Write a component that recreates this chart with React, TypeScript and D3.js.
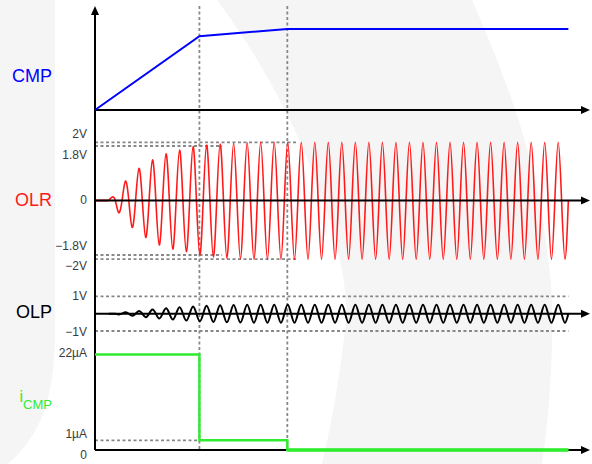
import React from "react";
import * as d3 from "d3";

// ---------- data (time measured in oscillation cycles) ----------
const timeDomain = [0, 36.6];
const eventTimes = [7.72, 14.22];
const waveStart = 1;
const signalEnd = 35;

const cmpTimes = [0, 7.72, 14.22, 35];
const cmpValues = [0, 0.91, 1, 1];

// successive extrema (alternating +/-) of OLR, volts
const olrExtrema = [
  0.11, 0.40, 0.64, 0.89, 1.06, 1.22, 1.34, 1.47, 1.54, 1.61,
  1.67, 1.69, 1.78, 1.80, 1.85, 1.89, 1.91, 1.95, 1.95, 1.97,
  1.98, 1.99, 2, 2, 2, 2, 2, 2, 2, 2,
  2, 2, 2, 2, 2, 2, 2, 2, 2, 2,
  2, 2, 2, 2, 2, 2, 2, 2, 2, 2,
  2, 2, 2, 2, 2, 2, 2, 2, 2, 2,
  2, 2, 2, 2, 2, 2, 2, 2,
];

// successive extrema (alternating +/-) of OLP, volts
const olpExtrema = [
  0.0, 0.04, 0.08, 0.12, 0.16, 0.2, 0.24, 0.28, 0.31, 0.34,
  0.37, 0.40, 0.42, 0.44, 0.46, 0.48, 0.49, 0.50, 0.51, 0.51,
  0.52, 0.52, 0.52, 0.52, 0.52, 0.52, 0.52, 0.52, 0.52, 0.52,
  0.52, 0.52, 0.52, 0.52, 0.52, 0.52, 0.52, 0.52, 0.52, 0.52,
  0.52, 0.52, 0.52, 0.52, 0.52, 0.52, 0.52, 0.52, 0.52, 0.52,
  0.52, 0.52, 0.52, 0.52, 0.52, 0.52, 0.52, 0.52, 0.52, 0.52,
  0.52, 0.52, 0.52, 0.52, 0.52, 0.52, 0.52, 0.52,
];

const icmpTimes = [0, 7.72, 7.72, 14.22, 14.22, 35];
const icmpValues = [22, 22, 1, 1, 0, 0];

const olrTickValues = [2, 1.8, 0, -1.8, -2];
const olrTickLabels = ["2V", "1.8V", "0", "\u22121.8V", "\u22122V"];
const olrGuideValues = [2, 1.8, -1.8, -2];
const olrGuideEnds = [15.0, 9.4, 9.4, 15.0];

const olpTickValues = [1, -1];
const olpTickLabels = ["1V", "\u22121V"];

const icmpTickValues = [22, 1, 0];
const icmpTickLabels = ["22\u00b5A", "1\u00b5A", "0"];

// ---------- layout ----------
const W = 592;
const H = 464;
const FONT = "'Liberation Sans', Arial, Helvetica, sans-serif";
const GREEN = "#2fec2f";

const x = d3.scaleLinear().domain(timeDomain).range([95, 590]);
const cmpY = d3.scaleLinear().domain([0, 1]).range([110, 29]);
const olrY = d3.scaleLinear().domain([-2, -1.8, 0, 1.8, 2]).range([259.2, 255, 200.5, 146, 142.3]);
const olpY = d3.scaleLinear().domain([-1, 0, 1]).range([331, 313.7, 296.4]);
const icmpY = d3.scaleLinear().domain([0, 1, 22]).range([450, 440.3, 354.5]);

const olrLabelNudge = [-4, 12.6, 3.8, -4.7, 11];
const olpLabelNudge = [3.6, 5];
const icmpLabelNudge = [2.5, -2.7, 9.3];

function wavePoints(ext: number[]): [number, number][] {
  const pts: [number, number][] = [[waveStart, 0]];
  ext.forEach((a, i) => {
    const s = i % 2 === 0 ? 1 : -1;
    pts.push([waveStart + 0.25 + i * 0.5, s * a]);
    pts.push([waveStart + 0.5 + i * 0.5, 0]);
  });
  return pts;
}

function Arrow({ x0, y0, dir }: { x0: number; y0: number; dir: "right" | "up" }) {
  if (dir === "right") {
    return <path d={`M${x0},${y0} L${x0 - 9},${y0 - 4} L${x0 - 9},${y0 + 4} Z`} fill="#000" />;
  }
  return <path d={`M${x0},${y0} L${x0 - 4},${y0 + 9} L${x0 + 4},${y0 + 9} Z`} fill="#000" />;
}

export default function App() {
  const xEnd = x(timeDomain[1]);
  const x0 = x(0);

  const cmpLine = d3
    .line<number>()
    .x((_, i) => x(cmpTimes[i]))
    .y((v) => cmpY(v))(cmpValues);

  const olrWave = d3
    .line<[number, number]>()
    .x((d) => x(d[0]))
    .y((d) => olrY(d[1]))
    .curve(d3.curveNatural)(wavePoints(olrExtrema));
  const olrFlat = d3
    .line<[number, number]>()
    .x((d) => x(d[0]))
    .y((d) => olrY(d[1]))([[0, 0], [waveStart, 0]]);

  const olpWave = d3
    .line<[number, number]>()
    .x((d) => x(d[0]))
    .y((d) => olpY(d[1]))
    .curve(d3.curveNatural)(wavePoints(olpExtrema));

  const icmpLine = d3
    .line<number>()
    .x((_, i) => x(icmpTimes[i]))
    .y((v) => icmpY(v))(icmpValues);

  const dash = { stroke: "#888", strokeWidth: 1.8, strokeDasharray: "3,2.5", fill: "none" };
  const tickStyle = { fontFamily: FONT, fontSize: 12, fill: "#3a3a3a" } as const;

  return (
    <svg
      width={W}
      height={H}
      viewBox={`0 0 ${W} ${H}`}
      style={{ position: "absolute", left: 0, top: 0, background: "#fff" }}
    >
      {/* faint watermark background */}
      <g fill="#f5f5f5">
        <path d="M0,0 L55,0 L55,330 C55,400 40,440 0,470 Z" />
        <path d="M217,0 C300,110 355,260 345,330 C338,390 330,430 322,464 L542,464 C552,400 556,300 548,260 C540,180 520,110 472,0 Z" />
      </g>

      {/* vertical event guides */}
      {eventTimes.map((t, i) => (
        <line key={"ev" + i} x1={x(t)} x2={x(t)} y1={6} y2={449} style={dash} />
      ))}

      {/* OLR guides */}
      {olrGuideValues.map((v, i) => (
        <line key={"og" + i} x1={x0} x2={x(olrGuideEnds[i])} y1={olrY(v)} y2={olrY(v)} style={dash} />
      ))}
      {/* OLP guides */}
      {olpTickValues.map((v, i) => (
        <line key={"pg" + i} x1={x0} x2={x(signalEnd)} y1={olpY(v)} y2={olpY(v)} style={dash} />
      ))}
      {/* iCMP 1uA guide */}
      <line x1={x0} x2={x(eventTimes[0])} y1={icmpY(1)} y2={icmpY(1)} style={dash} />

      {/* signals under axes */}
      <path d={olrWave || ""} fill="none" stroke="#ff1a1a" strokeWidth={1.6} />
      <path d={olrFlat || ""} fill="none" stroke="#ff1a1a" strokeWidth={2} />

      {/* axes */}
      <line x1={x0} x2={x0} y1={450} y2={14} stroke="#000" strokeWidth={2} />
      <Arrow x0={x0} y0={6} dir="up" />
      {[cmpY(0), olrY(0), olpY(0), icmpY(0)].map((yy, i) => (
        <g key={"ax" + i}>
          <line x1={x0} x2={xEnd - 8} y1={yy} y2={yy} stroke="#000" strokeWidth={2} />
          <Arrow x0={xEnd} y0={yy} dir="right" />
        </g>
      ))}

      {/* signals */}
      <path d={cmpLine || ""} fill="none" stroke="#0000ff" strokeWidth={2} />
      <path d={olpWave || ""} fill="none" stroke="#000" strokeWidth={2} />
      <path d={icmpLine || ""} fill="none" stroke={GREEN} strokeWidth={2.5} />
      <line x1={x(eventTimes[1])} x2={x(signalEnd)} y1={icmpY(0)} y2={icmpY(0)} stroke={GREEN} strokeWidth={3.5} />

      {/* tick labels */}
      {olrTickValues.map((v, i) => (
        <text key={"ot" + i} x={87} y={olrY(v) + olrLabelNudge[i]} textAnchor="end" style={tickStyle}>
          {olrTickLabels[i]}
        </text>
      ))}
      {olpTickValues.map((v, i) => (
        <text key={"pt" + i} x={87} y={olpY(v) + olpLabelNudge[i]} textAnchor="end" style={tickStyle}>
          {olpTickLabels[i]}
        </text>
      ))}
      {icmpTickValues.map((v, i) => (
        <text key={"it" + i} x={87} y={icmpY(v) + icmpLabelNudge[i]} textAnchor="end" style={tickStyle}>
          {icmpTickLabels[i]}
        </text>
      ))}

      {/* signal names */}
      <text x={52} y={81.5} textAnchor="end" fontFamily={FONT} fontSize={18} fill="#0000ff">CMP</text>
      <text x={52} y={206} textAnchor="end" fontFamily={FONT} fontSize={18} fill="#ff1a1a">OLR</text>
      <text x={52} y={318.3} textAnchor="end" fontFamily={FONT} fontSize={18} fill="#000">OLP</text>
      <text x={52} y={402} textAnchor="end" fontFamily={FONT} fill={GREEN}>
        <tspan fontSize={16}>i</tspan>
        <tspan fontSize={13} dy={6.5}>CMP</tspan>
      </text>
    </svg>
  );
}
